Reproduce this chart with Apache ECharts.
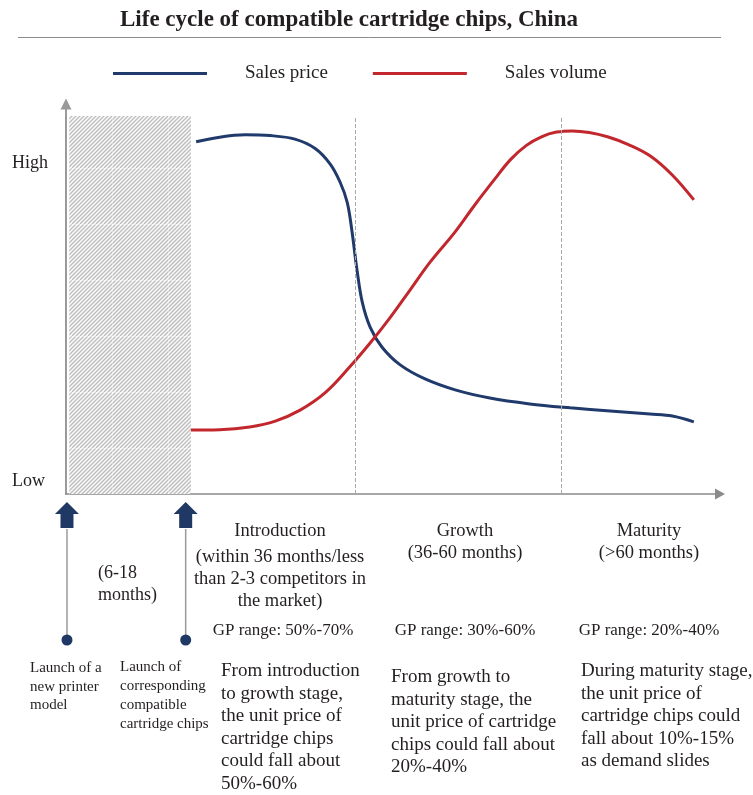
<!DOCTYPE html>
<html>
<head>
<meta charset="utf-8">
<script src="https://cdn.jsdelivr.net/npm/echarts@6/dist/echarts.min.js"></script>
<style>
  html, body { margin: 0; padding: 0; background: #fff; }
  #chart { width: 753px; height: 795px; }
</style>
</head>
<body>
<div id="chart"></div>
<script>
// Time runs along x (0 = printer launch, 100 = end of axis); y is a relative High/Low level.
const priceX = [19.9, 23.5, 27.4, 31.2, 35.0, 38.1, 40.4, 41.9, 43.0, 43.7, 44.5, 45.3, 46.5, 48.3, 51.1, 54.9, 59.5, 64.8, 70.9, 77.1, 83.2, 89.3, 92.7, 96.0];
const priceY = [90.3, 91.5, 92.1, 91.9, 91.0, 88.6, 84.6, 80.0, 74.8, 67.7, 57.4, 49.2, 42.8, 37.7, 33.1, 29.5, 26.7, 24.6, 23.1, 22.1, 21.3, 20.5, 20.0, 18.5];
const volumeX = [19.1, 23.5, 28.1, 32.0, 35.8, 39.6, 43.4, 46.5, 49.5, 52.6, 55.7, 59.5, 62.5, 65.4, 68.0, 70.4, 72.7, 75.0, 77.4, 80.0, 82.8, 86.0, 89.4, 92.7, 96.0];
const volumeY = [16.4, 16.5, 17.2, 18.7, 21.5, 25.9, 32.6, 38.7, 45.1, 52.3, 59.5, 67.2, 74.1, 80.4, 85.8, 89.4, 91.6, 92.8, 93.1, 92.7, 91.6, 89.6, 86.6, 81.8, 75.4];

// Pre-launch window of compatible chips (hatched), stage boundaries, launch markers
const waitWindow = [0.5, 19.1];
const waitTop = 96.9;
const stageBounds = [44.3, 75.8];
const launchMarks = [0.15, 18.3];
const levelTicks = [3.3, 84.9];
const levelNames = ['Low', 'High'];

const seriesNames = ['Sales price', 'Sales volume'];

const SERIF = '"Liberation Serif", "Times New Roman", serif';
const INK = '#231f20';
const NAVY = '#1f3a6b';
const RED = '#c1272d';

function zip(xs, ys) { return xs.map((x, i) => [x, ys[i]]); }

// Diagonal hatch tile
function hatchPattern() {
  const N = 56, p = 4;
  const c = document.createElement('canvas');
  c.width = N; c.height = N;
  const g = c.getContext('2d');
  g.fillStyle = '#fafafa';
  g.fillRect(0, 0, N, N);
  g.strokeStyle = '#bdbdbd';
  g.lineWidth = 1.3;
  for (let k = -p; k <= 2 * N + p; k += p) {
    g.beginPath();
    g.moveTo(k, 0);
    g.lineTo(k - N, N);
    g.stroke();
  }
  g.fillStyle = 'rgba(255,255,255,0.35)';
  g.fillRect(0, 0, N, 1);
  g.fillRect(0, 0, 1, N);
  return { image: c, repeat: 'repeat' };
}
const hatch = hatchPattern();

function txt(text, x, y, size, opts) {
  opts = opts || {};
  return {
    type: 'text', silent: true,
    style: {
      text: text, x: x, y: y,
      fill: INK,
      font: (opts.bold ? 'bold ' : '') + size + 'px ' + SERIF,
      textAlign: opts.align || 'left',
      textVerticalAlign: 'top',
      lineHeight: opts.lh || Math.round(size * 1.2)
    }
  };
}

const chart = echarts.init(document.getElementById('chart'), null, { renderer: 'canvas' });

const option = {
  animation: false,
  backgroundColor: '#fff',
  title: {
    text: 'Life cycle of compatible cartridge chips, China',
    left: 115, top: 4,
    textStyle: { fontFamily: SERIF, fontWeight: 'bold', fontSize: 23, color: INK }
  },
  legend: {
    data: seriesNames,
    left: 108, top: 59,
    icon: 'rect',
    itemWidth: 94, itemHeight: 3,
    itemGap: 45,
    textStyle: { fontFamily: SERIF, fontSize: 19, color: INK, padding: [0, 0, 0, 33] }
  },
  grid: { left: 66, right: 33, top: 104, bottom: 301, containLabel: false },
  xAxis: {
    type: 'value', min: 0, max: 100,
    axisLine: { show: true, symbol: ['none', 'triangle'], symbolSize: [11, 10], lineStyle: { color: '#8a8a8a', width: 1.5 } },
    axisTick: { show: false }, axisLabel: { show: false }, splitLine: { show: false }
  },
  yAxis: {
    type: 'value', min: 0, max: 100,
    axisLine: { show: true, symbol: ['none', 'triangle'], symbolSize: [11, 11], lineStyle: { color: '#9a9a9a', width: 2 } },
    axisTick: { show: false },
    splitLine: { show: false },
    axisLabel: {
      customValues: levelTicks,
      formatter: v => levelNames[levelTicks.indexOf(v)],
      align: 'left', margin: 54,
      fontFamily: SERIF, fontSize: 18, color: INK
    }
  },
  series: [
    {
      type: 'custom', name: 'window', silent: true, z: 1,
      renderItem: function (params, api) {
        const a = api.coord([api.value(0), api.value(2)]);
        const b = api.coord([api.value(1), 0]);
        return { type: 'rect', shape: { x: a[0], y: a[1], width: b[0] - a[0], height: b[1] - a[1] }, style: { fill: hatch } };
      },
      encode: { x: [0, 1], y: 2 },
      data: [[waitWindow[0], waitWindow[1], waitTop]]
    },
    {
      name: seriesNames[0], type: 'line', smooth: 0.35, showSymbol: false, z: 3,
      lineStyle: { color: NAVY, width: 3 }, itemStyle: { color: NAVY },
      data: zip(priceX, priceY),
      markLine: {
        silent: true, symbol: 'none', label: { show: false },
        lineStyle: { type: 'dashed', color: '#a8a8a8', width: 1 },
        data: stageBounds.map(x => [{ coord: [x, 0] }, { coord: [x, waitTop] }])
      }
    },
    {
      name: seriesNames[1], type: 'line', smooth: 0.4, showSymbol: false, z: 3,
      lineStyle: { color: RED, width: 3 }, itemStyle: { color: RED },
      data: zip(volumeX, volumeY)
    },
    {
      type: 'custom', name: 'launch', silent: true, clip: false, z: 4,
      renderItem: function (params, api) {
        const p = api.coord([api.value(0), 0]);
        const x = p[0];
        return {
          type: 'group',
          children: [
            { type: 'line', shape: { x1: x, y1: 529, x2: x, y2: 638 }, style: { stroke: '#9a9a9a', lineWidth: 1.5 } },
            { type: 'polygon', shape: { points: [[x, 502], [x + 12, 514], [x + 6.5, 514], [x + 6.5, 528], [x - 6.5, 528], [x - 6.5, 514], [x - 12, 514]] }, style: { fill: '#1f3864' } },
            { type: 'circle', shape: { cx: x, cy: 640, r: 5.5 }, style: { fill: '#1f3864' } }
          ]
        };
      },
      encode: { x: 0 },
      data: launchMarks.map(v => [v])
    }
  ],
  graphic: [
    { type: 'line', silent: true, shape: { x1: 18, y1: 37.5, x2: 721, y2: 37.5 }, style: { stroke: '#8c8c8c', lineWidth: 1 } },

    txt('(6-18\nmonths)', 98, 562, 18, { lh: 22 }),
    txt('Launch of a\nnew printer\nmodel', 30, 659, 15, { lh: 18.5 }),
    txt('Launch of\ncorresponding\ncompatible\ncartridge chips', 120, 657, 15, { lh: 19.3 }),

    txt('Introduction', 280, 520, 18.5, { align: 'center' }),
    txt('(within 36 months/less\nthan 2-3 competitors in\nthe market)', 280, 546, 18.5, { align: 'center', lh: 22 }),
    txt('GP range: 50%-70%', 283, 621, 17, { align: 'center' }),

    txt('Growth', 465, 520, 18.5, { align: 'center' }),
    txt('(36-60 months)', 465, 542, 18.5, { align: 'center' }),
    txt('GP range: 30%-60%', 465, 621, 17, { align: 'center' }),

    txt('Maturity', 649, 520, 18.5, { align: 'center' }),
    txt('(>60 months)', 649, 542, 18.5, { align: 'center' }),
    txt('GP range: 20%-40%', 649, 621, 17, { align: 'center' }),

    txt('From introduction\nto growth stage,\nthe unit price of\ncartridge chips\ncould fall about\n50%-60%', 221, 659.7, 19, { lh: 22.6 }),
    txt('From growth to\nmaturity stage, the\nunit price of cartridge\nchips could fall about\n20%-40%', 391, 665.7, 19, { lh: 22.6 }),
    txt('During maturity stage,\nthe unit price of\ncartridge chips could\nfall about 10%-15%\nas demand slides', 581, 659.7, 19, { lh: 22.6 })
  ]
};

chart.setOption(option);
</script>
</body>
</html>
